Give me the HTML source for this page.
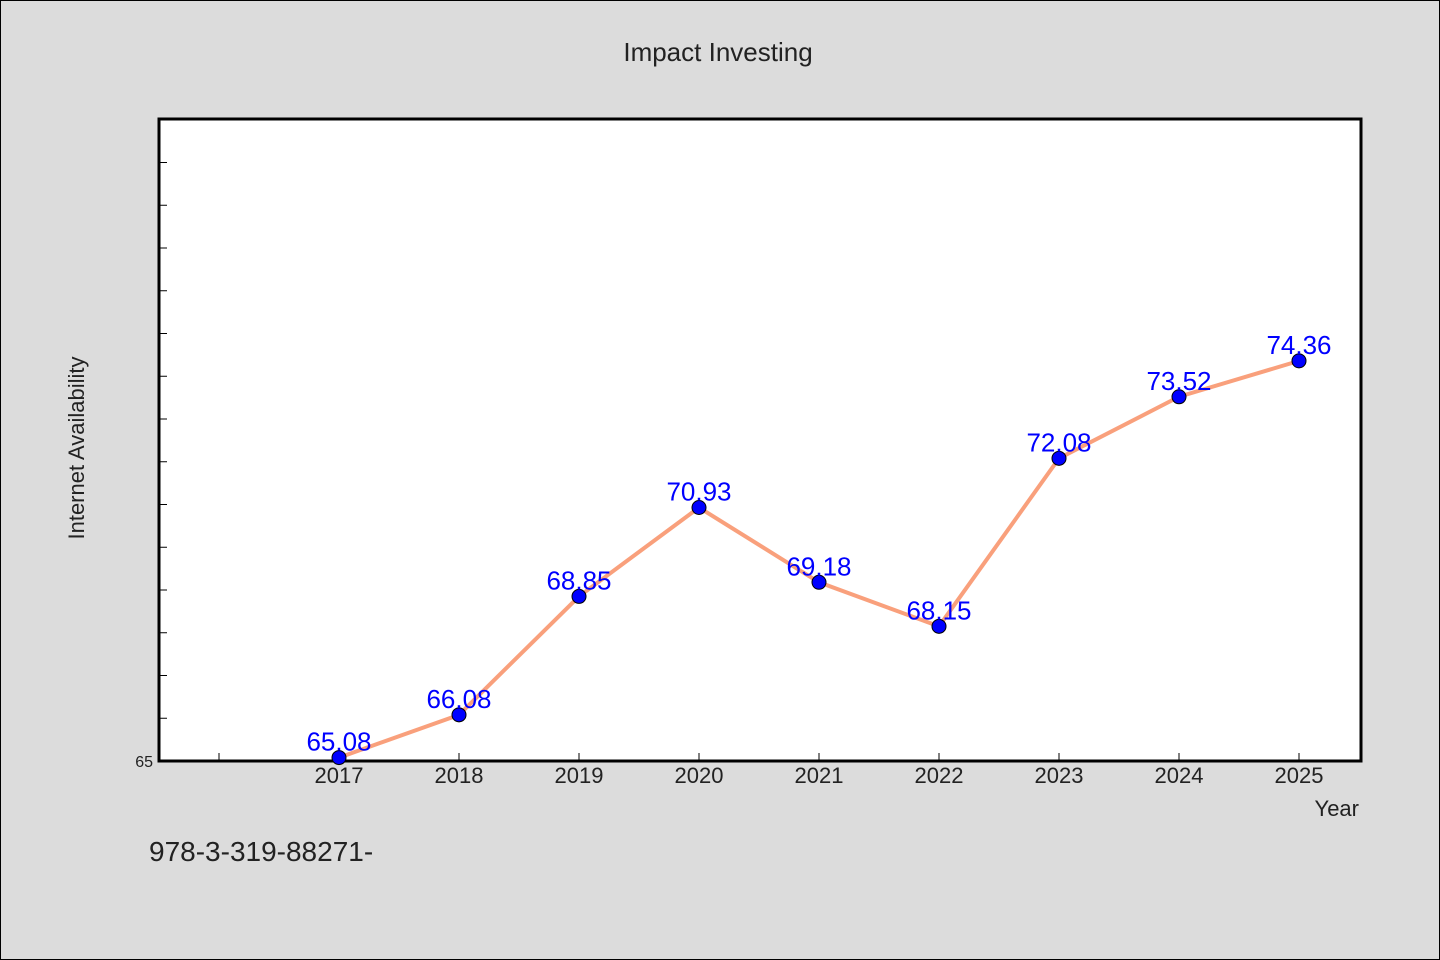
<!DOCTYPE html>
<html><head><meta charset="utf-8"><style>
body{margin:0;background:#dcdcdc}
svg{display:block;font-family:"WenQuanYi Zen Hei","Liberation Sans",sans-serif}
</style></head><body>
<svg width="1440" height="960">
<rect x="0.5" y="0.5" width="1439" height="959" fill="#dcdcdc" stroke="#000"/>
<text x="718" y="61" font-size="26" text-anchor="middle" fill="#222">Impact Investing</text>
<rect x="159" y="119" width="1202" height="642" fill="#fff" stroke="#000" stroke-width="3"/>
<g id="ticks"></g>
<text transform="translate(84,448) rotate(-90)" font-size="22" text-anchor="middle" fill="#222">Internet Availability</text>
<text x="1359" y="816" font-size="22" text-anchor="end" fill="#222">Year</text>
<text x="149" y="861" font-size="28" fill="#222">978-3-319-88271-</text>
<g id="series"></g>
</svg>
<script>
const years=[2017,2018,2019,2020,2021,2022,2023,2024,2025];
const values=[65.08,66.08,68.85,70.93,69.18,68.15,72.08,73.52,74.36];
const labels=["65.08","66.08","68.85","70.93","69.18","68.15","72.08","73.52","74.36"];
const yTicks=[65,66,67,68,69,70,71,72,73,74,75,76,77,78,79];
const xTicks=[2016,2017,2018,2019,2020,2021,2022,2023,2024,2025];
const NS="http://www.w3.org/2000/svg";
const X=v=>159+(v-2015.5)*120;
const Y=v=>761-(v-65)*42.75;
function mk(t,a,p){const e=document.createElementNS(NS,t);for(const k in a)e.setAttribute(k,a[k]);p.appendChild(e);return e;}
const tg=document.getElementById('ticks');
yTicks.forEach(v=>{
 const l=mk('line',{x1:159,x2:167,y1:Y(v),y2:Y(v),stroke:'#000','stroke-width':1},tg);
 
 
});
const yl=mk('text',{x:153,y:767,'font-size':16,'text-anchor':'end',fill:'#222'},tg);
yl.textContent='65';


xTicks.forEach(v=>{
 const l=mk('line',{x1:X(v),x2:X(v),y1:761,y2:753,stroke:'#000','stroke-width':1},tg);
 
 
 if(v>=2017){
  const t=mk('text',{x:X(v),y:783,'font-size':22,'text-anchor':'middle',fill:'#222'},tg);
  t.textContent=v;
  
  
 }
});
const sg=document.getElementById('series');
const pl=mk('polyline',{points:years.map((y,i)=>X(y)+','+Y(values[i])).join(' '),fill:'none',stroke:'#f9a07c','stroke-width':4},sg);


years.forEach((y,i)=>{
 const c=mk('circle',{cx:X(y),cy:Y(values[i]),r:7,fill:'#0000ff',stroke:'#000','stroke-width':1},sg);
 
 
 const t=mk('text',{x:X(y),y:Y(values[i])-7,'font-size':26,'text-anchor':'middle',fill:'#0000ff'},sg);
 t.textContent=labels[i];
 
 
});
</script>
</body></html>
